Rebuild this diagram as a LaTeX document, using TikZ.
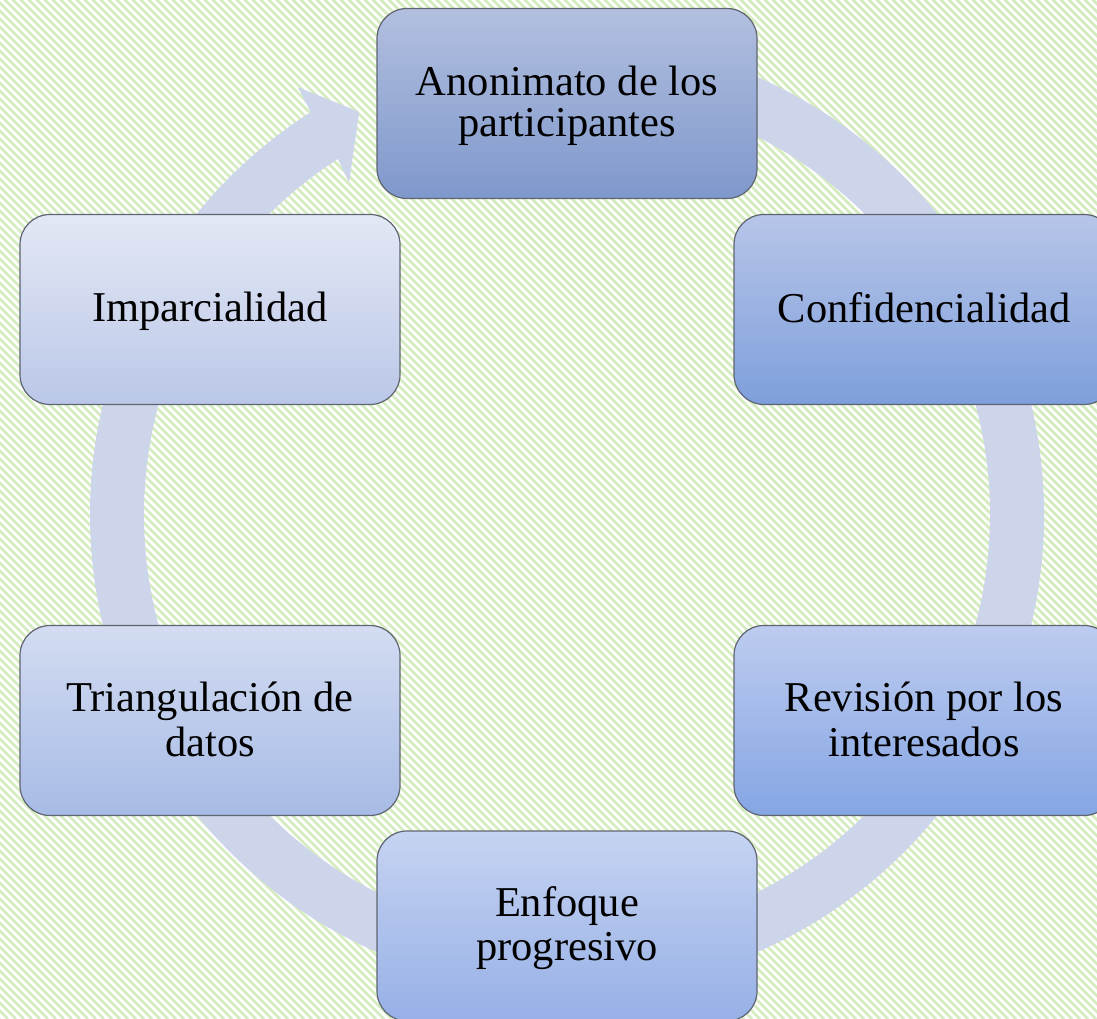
\documentclass[tikz,border=0pt]{standalone}
\usepackage{fontspec}
\setmainfont{Liberation Serif}
\definecolor{stripe}{HTML}{D4ECBF}
\definecolor{band}{HTML}{CDD5EA}
\definecolor{edge}{HTML}{5E6470}
\definecolor{anonT}{HTML}{B2BFDF}
\definecolor{anonB}{HTML}{7F98CC}
\definecolor{confT}{HTML}{B7C5E8}
\definecolor{confB}{HTML}{7E9FDC}
\definecolor{revT}{HTML}{BDCCEF}
\definecolor{revB}{HTML}{85A5E4}
\definecolor{enfT}{HTML}{C6D3F2}
\definecolor{enfB}{HTML}{96B0E6}
\definecolor{triT}{HTML}{D3DCF1}
\definecolor{triB}{HTML}{A7BBE6}
\definecolor{impT}{HTML}{E3E8F5}
\definecolor{impB}{HTML}{BAC7E7}
\newcommand\lnstrut{\rule[-7pt]{0pt}{41pt}}
\tikzset{
  stepbox/.style={draw=edge, line width=1.2pt, rounded corners=30pt,
    minimum width=380pt, minimum height=190pt, inner sep=0pt, align=center,
    font=\fontsize{42.5}{41}\selectfont},
  stripeline/.style={draw=stripe, line width=2.8pt},
  cycleband/.style={fill=band}
}
\begin{document}
\begin{tikzpicture}[x=1pt,y=1pt]
\useasboundingbox (0,0) rectangle (1097,1019);
\clip (0,0) rectangle (1097,1019);
\fill[white] (0,0) rectangle (1097,1019);
\foreach \c in {0,8,...,2136} \draw[stripeline] (\c,0) -- ++(-1040,1040);
\begin{scope}[shift={(567,504.5)}]
\fill[cycleband] (95:477pt) arc[start angle=95, end angle=-237.5, radius=477pt]
  -- (-237.8:505pt) -- (-242.7:453pt) -- (-236.7:397pt) -- (-237.2:423pt)
  arc[start angle=-237.2, end angle=95, radius=423pt] -- cycle;
\end{scope}
\node[stepbox, top color=anonT, bottom color=anonB] (anon) at (567,915.5) {\lnstrut Anonimato de los\\\lnstrut participantes};
\node[stepbox, top color=confT, bottom color=confB] (conf) at (924,709.5) {\lnstrut Confidencialidad};
\node[stepbox, top color=revT, bottom color=revB] (rev) at (924,298.5) {\lnstrut Revisión por los\\\lnstrut interesados};
\node[stepbox, top color=enfT, bottom color=enfB] (enf) at (567,93) {\lnstrut Enfoque\\\lnstrut progresivo};
\node[stepbox, top color=triT, bottom color=triB] (tri) at (210,298.5) {\lnstrut Triangulación de\\\lnstrut datos};
\node[stepbox, top color=impT, bottom color=impB] (imp) at (210,709.5) {\lnstrut Imparcialidad};
\end{tikzpicture}
\end{document}
